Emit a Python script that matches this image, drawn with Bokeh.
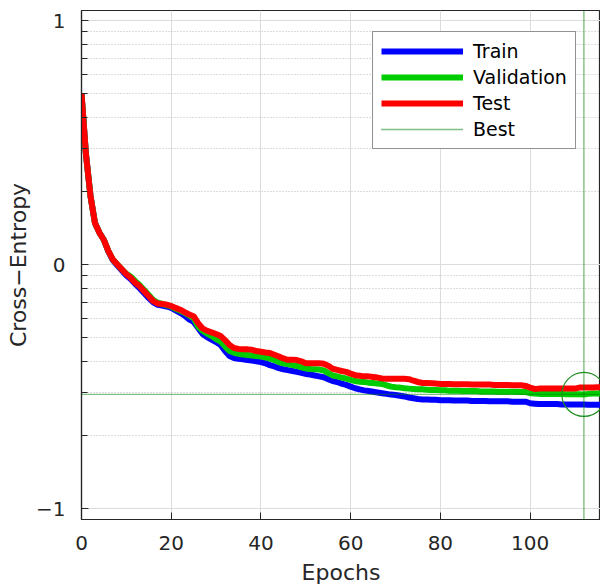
from bokeh.plotting import figure
from bokeh.models import (Range1d, FixedTicker, CustomJSTickFormatter, Legend, LegendItem, Span)
from bokeh.embed import file_html
from bokeh.resources import INLINE

# ---- data (cross-entropy per epoch) ----
train = [5.01, 2.82, 1.91, 1.48, 1.35, 1.26, 1.13, 1.04, 0.99, 0.945,
         0.902, 0.871, 0.832, 0.798, 0.762, 0.728, 0.700, 0.684, 0.679, 0.673,
         0.664, 0.649, 0.634, 0.617, 0.596, 0.582, 0.550, 0.519, 0.504, 0.492,
         0.481, 0.468, 0.442, 0.422, 0.414, 0.411, 0.409, 0.406, 0.404, 0.401,
         0.398, 0.394, 0.387, 0.382, 0.376, 0.372, 0.369, 0.366, 0.363, 0.360,
         0.356, 0.354, 0.351, 0.348, 0.345, 0.339, 0.333, 0.330, 0.325, 0.321,
         0.316, 0.311, 0.308, 0.305, 0.303, 0.301, 0.299, 0.297, 0.295, 0.293,
         0.292, 0.290, 0.288, 0.285, 0.283, 0.281, 0.280, 0.280, 0.279, 0.279,
         0.278, 0.278, 0.278, 0.277, 0.277, 0.277, 0.277, 0.276, 0.276, 0.276,
         0.276, 0.275, 0.275, 0.275, 0.275, 0.275, 0.274, 0.274, 0.274, 0.274,
         0.270, 0.269, 0.268, 0.268, 0.268, 0.268, 0.268, 0.267, 0.267, 0.267,
         0.267, 0.267, 0.267, 0.266, 0.266, 0.266, 0.266, 0.266, 0.266]

validation = [5.01, 2.82, 1.91, 1.48, 1.35, 1.26, 1.135, 1.047, 1.00, 0.955,
              0.918, 0.891, 0.855, 0.822, 0.785, 0.750, 0.716, 0.697, 0.689, 0.682,
              0.673, 0.658, 0.646, 0.634, 0.619, 0.603, 0.556, 0.535, 0.521, 0.509,
              0.495, 0.484, 0.462, 0.442, 0.435, 0.431, 0.428, 0.426, 0.424, 0.422,
              0.420, 0.416, 0.411, 0.406, 0.398, 0.394, 0.391, 0.387, 0.384, 0.379,
              0.375, 0.373, 0.372, 0.371, 0.368, 0.359, 0.351, 0.348, 0.344, 0.341,
              0.337, 0.333, 0.331, 0.330, 0.328, 0.327, 0.325, 0.324, 0.320, 0.316,
              0.314, 0.313, 0.311, 0.310, 0.309, 0.308, 0.308, 0.307, 0.306, 0.306,
              0.305, 0.305, 0.304, 0.304, 0.304, 0.303, 0.303, 0.303, 0.303, 0.302,
              0.302, 0.302, 0.302, 0.301, 0.301, 0.301, 0.301, 0.301, 0.300, 0.300,
              0.297, 0.296, 0.295, 0.295, 0.295, 0.295, 0.295, 0.295, 0.294, 0.294,
              0.294, 0.294, 0.2935, 0.295, 0.296, 0.296, 0.296, 0.297, 0.297]

test = [5.01, 2.82, 1.91, 1.48, 1.35, 1.26, 1.135, 1.047, 1.00, 0.955,
        0.912, 0.881, 0.841, 0.813, 0.776, 0.741, 0.708, 0.692, 0.689, 0.685,
        0.676, 0.664, 0.653, 0.638, 0.624, 0.614, 0.575, 0.547, 0.535, 0.527,
        0.519, 0.509, 0.490, 0.468, 0.455, 0.451, 0.450, 0.449, 0.447, 0.442,
        0.439, 0.436, 0.434, 0.427, 0.420, 0.412, 0.407, 0.407, 0.406, 0.401,
        0.394, 0.394, 0.394, 0.394, 0.392, 0.385, 0.374, 0.370, 0.366, 0.363,
        0.357, 0.352, 0.350, 0.348, 0.348, 0.346, 0.344, 0.341, 0.340, 0.340,
        0.340, 0.340, 0.340, 0.339, 0.334, 0.330, 0.327, 0.327, 0.326, 0.325,
        0.324, 0.324, 0.324, 0.323, 0.323, 0.323, 0.323, 0.322, 0.322, 0.322,
        0.322, 0.322, 0.321, 0.321, 0.321, 0.321, 0.320, 0.320, 0.320, 0.318,
        0.313, 0.309, 0.310, 0.310, 0.310, 0.310, 0.310, 0.310, 0.310, 0.310,
        0.310, 0.313, 0.313, 0.313, 0.313, 0.314, 0.314, 0.314, 0.314]

x_ticks = [0, 20, 40, 60, 80, 100, 120]
y_ticks = [0.1, 1, 10]

ep_train = list(range(len(train)))
ep_val = list(range(len(validation)))
ep_test = list(range(len(test)))

best_epoch = min(range(len(validation)), key=lambda i: validation[i])
best_val = validation[best_epoch]

FONT = "DejaVu Sans"
DARK = "#262626"
BEST = "#008000"

p = figure(width=600, height=587, output_backend="svg", toolbar_location=None,
           y_axis_type="log",
           x_range=Range1d(0, 115.7),
           y_range=Range1d(10 ** -1.045, 10 ** 1.041),
           min_border_left=81, min_border_right=0, min_border_top=10, min_border_bottom=66)

p.background_fill_color = "white"
p.border_fill_color = "white"
p.outline_line_color = DARK
p.outline_line_width = 1.2

# grids
p.xgrid.ticker = FixedTicker(ticks=x_ticks)
p.xgrid.grid_line_color = "#dcdcdc"
p.xgrid.grid_line_width = 1
minor = [0.2, 0.3, 0.4, 0.5, 0.6, 0.7, 0.8, 0.9, 2, 3, 4, 5, 6, 7, 8, 9]
yt = FixedTicker(ticks=y_ticks, minor_ticks=minor)
p.yaxis.ticker = yt
p.ygrid.ticker = yt
p.ygrid.grid_line_color = "#dcdcdc"
p.ygrid.minor_grid_line_color = "#b8b8b8"
p.ygrid.minor_grid_line_dash = "1 2"
p.ygrid.minor_grid_line_width = 1

# axes
p.xaxis.ticker = FixedTicker(ticks=x_ticks)
for ax in (p.xaxis[0], p.yaxis[0]):
    ax.axis_line_color = DARK
    ax.axis_line_width = 1.2
    ax.major_tick_line_color = DARK
    ax.minor_tick_line_color = DARK
    ax.major_tick_in = 7
    ax.major_tick_out = 0
    ax.minor_tick_in = 6
    ax.minor_tick_out = 0
    ax.major_label_text_font = FONT
    ax.major_label_text_font_size = "20px"
    ax.major_label_text_color = DARK
    ax.axis_label_text_font = FONT
    ax.axis_label_text_font_size = "22px"
    ax.axis_label_text_font_style = "normal"
    ax.axis_label_text_color = DARK
p.xaxis.minor_tick_in = 0
p.xaxis.major_label_standoff = 16
p.xaxis.axis_label_standoff = 7
p.yaxis.major_label_standoff = 16
p.yaxis.axis_label_standoff = 2
p.xaxis.axis_label = "Epochs"
p.yaxis.axis_label = "Cross\u2212Entropy"
p.yaxis.formatter = CustomJSTickFormatter(code="""
const e = Math.round(Math.log10(tick));
return e < 0 ? '\\u2212' + (-e) : '' + e;
""")

# curves
r_train = p.line(ep_train, train, line_color="#0000ff", line_width=6)
r_val = p.line(ep_val, validation, line_color="#00cc00", line_width=6)
r_test = p.line(ep_test, test, line_color="#ff0000", line_width=6)

# best markers
r_best = p.line([0, len(validation) - 1], [best_val, best_val], line_color=BEST,
                line_width=1.4, line_dash="1 1")
p.add_layout(Span(location=best_epoch, dimension="height", line_color=BEST,
                  line_width=1.4, line_dash="1 1"))
p.scatter([best_epoch], [best_val], marker="circle", size=44, fill_color=None,
          line_color="#1f8f1f", line_width=1.2)

legend = Legend(items=[
    LegendItem(label="Train", renderers=[r_train]),
    LegendItem(label="Validation", renderers=[r_val]),
    LegendItem(label="Test", renderers=[r_test]),
    LegendItem(label="Best", renderers=[r_best]),
], location=(291, 370))
legend.label_text_font = FONT
legend.label_text_font_size = "19px"
legend.label_text_color = "black"
legend.glyph_width = 82
legend.glyph_height = 20
legend.label_height = 20
legend.label_standoff = 10
legend.spacing = 4
legend.padding = 8
legend.margin = 0
legend.border_line_color = DARK
legend.border_line_width = 1.2
legend.background_fill_color = "white"
legend.background_fill_alpha = 1
p.add_layout(legend)

open("out.html", "w").write(file_html(p, INLINE))
